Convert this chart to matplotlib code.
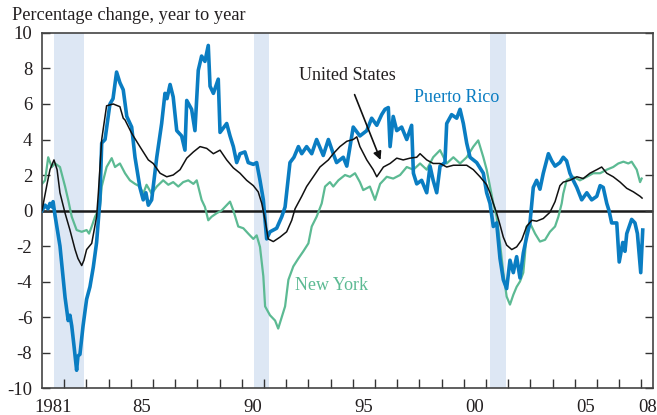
import numpy as np
import matplotlib
matplotlib.use("Agg")
import matplotlib.pyplot as plt

### Data (year, percent change year to year)
pr_year = [1981.00, 1981.14, 1981.27, 1981.36, 1981.45, 1981.50, 1981.59, 1981.68, 1981.81, 1982.04,
           1982.18, 1982.26, 1982.34, 1982.44, 1982.56, 1982.62, 1982.71, 1982.85, 1983.01, 1983.16,
           1983.31, 1983.46, 1983.61, 1983.69, 1983.84, 1984.06, 1984.20, 1984.36, 1984.51, 1984.66,
           1984.82, 1985.04, 1985.19, 1985.32, 1985.41, 1985.56, 1985.68, 1985.79, 1985.94, 1986.17,
           1986.39, 1986.54, 1986.63, 1986.77, 1986.91, 1987.07, 1987.29, 1987.44, 1987.52, 1987.74,
           1987.89, 1988.04, 1988.19, 1988.34, 1988.49, 1988.57, 1988.72, 1988.94, 1989.02, 1989.32,
           1989.47, 1989.62, 1989.77, 1989.92, 1990.14, 1990.29, 1990.52, 1990.67, 1990.82, 1990.97,
           1991.12, 1991.27, 1991.57, 1991.80, 1991.95, 1992.17, 1992.35, 1992.55, 1992.70, 1992.92,
           1993.15, 1993.37, 1993.67, 1993.90, 1994.12, 1994.27, 1994.57, 1994.73, 1995.02, 1995.32,
           1995.63, 1995.85, 1996.08, 1996.30, 1996.45, 1996.60, 1996.68, 1996.82, 1996.98, 1997.20,
           1997.43, 1997.65, 1997.73, 1997.88, 1998.10, 1998.33, 1998.48, 1998.62, 1998.78, 1998.93,
           1999.15, 1999.23, 1999.45, 1999.68, 1999.83, 1999.98, 2000.13, 2000.28, 2000.58, 2000.88,
           2001.03, 2001.18, 2001.33, 2001.48, 2001.63, 2001.78, 2001.93, 2002.08, 2002.23, 2002.38,
           2002.53, 2002.68, 2002.83, 2002.98, 2003.13, 2003.28, 2003.43, 2003.58, 2003.81, 2003.96,
           2004.11, 2004.33, 2004.48, 2004.63, 2004.78, 2004.93, 2005.09, 2005.31, 2005.54, 2005.76,
           2005.99, 2006.14, 2006.28, 2006.44, 2006.54, 2006.66, 2006.89, 2007.00, 2007.16, 2007.26,
           2007.34, 2007.56, 2007.71, 2007.82, 2007.97, 2008.06]
pr_val = [0.0, 0.3, 0.1, 0.4, 0.2, 0.5, -0.3, -1.0, -2.0, -4.9,
          -6.2, -5.9, -6.5, -7.6, -9.0, -8.2, -8.1, -6.5, -5.0, -4.3,
          -3.2, -1.8, 0.6, 3.8, 4.0, 6.0, 6.3, 7.8, 7.2, 6.8,
          5.3, 4.7, 3.0, 2.0, 1.3, 0.6, 1.0, 0.3, 0.6, 3.0,
          4.9, 6.6, 6.3, 7.1, 6.4, 4.5, 4.2, 3.4, 6.2, 5.7,
          4.5, 7.9, 8.7, 8.4, 9.3, 7.0, 6.6, 7.4, 4.4, 4.9,
          4.2, 3.6, 2.7, 3.2, 3.3, 2.7, 2.6, 2.7, 1.7, 0.6,
          -1.6, -1.2, -1.0, -0.35, 0.2, 2.7, 3.0, 3.6, 3.2, 3.6,
          3.2, 4.0, 3.1, 4.0, 3.2, 2.7, 3.0, 2.5, 4.7, 4.2,
          4.5, 5.2, 4.8, 5.4, 5.7, 5.8, 3.6, 5.3, 4.5, 4.7,
          4.0, 4.8, 2.1, 1.5, 1.7, 1.0, 2.5, 1.7, 1.0, 2.5,
          2.7, 4.9, 5.4, 5.2, 5.7, 4.9, 3.8, 3.0, 2.7, 2.1,
          1.0, 0.4, -0.9, -0.7, -2.7, -3.9, -4.4, -2.8, -3.5, -2.6,
          -3.8, -2.4, -1.5, -0.7, 1.3, 1.7, 1.2, 2.1, 3.2, 2.8,
          2.5, 2.7, 3.0, 2.8, 2.1, 1.7, 1.3, 0.6, 1.0, 0.6,
          0.8, 1.4, 1.3, 0.4, 0.0, -0.7, -0.7, -2.9, -1.8, -2.3,
          -1.3, -0.5, -0.7, -1.3, -3.5, -1.1]

us_year = [1981.00, 1981.23, 1981.36, 1981.54, 1981.68, 1981.81, 1982.04, 1982.26, 1982.49, 1982.62,
           1982.79, 1982.89, 1983.01, 1983.24, 1983.46, 1983.54, 1983.69, 1983.91, 1984.21, 1984.51,
           1984.66, 1984.74, 1985.04, 1985.41, 1985.79, 1986.01, 1986.32, 1986.62, 1986.91, 1987.22,
           1987.52, 1987.82, 1988.12, 1988.42, 1988.72, 1989.02, 1989.32, 1989.62, 1989.92, 1990.22,
           1990.52, 1990.74, 1990.90, 1991.05, 1991.19, 1991.42, 1991.72, 1992.02, 1992.25, 1992.40,
           1992.70, 1992.92, 1993.22, 1993.52, 1993.90, 1994.12, 1994.42, 1994.73, 1995.02, 1995.18,
           1995.32, 1995.63, 1995.92, 1996.08, 1996.38, 1996.68, 1996.98, 1997.27, 1997.58, 1997.88,
           1998.03, 1998.33, 1998.62, 1998.93, 1999.23, 1999.53, 1999.83, 2000.13, 2000.43, 2000.73,
           2001.03, 2001.18, 2001.33, 2001.48, 2001.63, 2001.78, 2001.93, 2002.16, 2002.38, 2002.61,
           2002.83, 2003.06, 2003.28, 2003.58, 2003.88, 2004.11, 2004.33, 2004.48, 2004.78, 2005.09,
           2005.38, 2005.68, 2005.99, 2006.21, 2006.44, 2006.73, 2007.04, 2007.34, 2007.64, 2007.94,
           2008.03]
us_val = [0.0, 1.5, 2.3, 2.85, 2.3, 1.0, -0.15, -1.1, -2.2, -2.7,
          -3.1, -2.8, -2.2, -1.85, -0.35, 1.0, 4.0, 5.9, 6.0, 5.85,
          5.2, 5.1, 4.35, 3.6, 2.85, 2.65, 2.1, 1.9, 2.0, 2.3,
          2.95, 3.3, 3.6, 3.5, 3.2, 3.4, 2.85, 2.4, 2.1, 1.7,
          1.4, 1.05, 0.4, -0.55, -1.6, -1.75, -1.5, -1.2, -0.55, 0.1,
          0.8, 1.35, 1.9, 2.45, 2.85, 3.2, 3.6, 3.9, 4.0, 4.15,
          3.6, 2.85, 2.3, 1.9, 2.45, 2.65, 2.95, 2.85, 2.95, 3.0,
          3.2, 2.85, 2.65, 2.65, 2.45, 2.55, 2.55, 2.55, 2.3, 1.9,
          1.45, 1.0, 0.4, -0.15, -0.8, -1.5, -1.95, -2.2, -2.05, -1.65,
          -0.9, -0.55, -0.6, -0.45, -0.1, 0.5, 1.4, 1.6, 1.7, 1.9,
          1.8, 2.1, 2.3, 2.45, 2.1, 1.9, 1.6, 1.25, 1.05, 0.8,
          0.7]

ny_year = [1981.00, 1981.14, 1981.28, 1981.44, 1981.59, 1981.81, 1982.04, 1982.18, 1982.34, 1982.56,
           1982.79, 1983.01, 1983.12, 1983.24, 1983.39, 1983.61, 1983.69, 1983.91, 1984.14, 1984.29,
           1984.51, 1984.74, 1984.96, 1985.19, 1985.41, 1985.56, 1985.71, 1985.94, 1986.17, 1986.46,
           1986.69, 1986.91, 1987.14, 1987.36, 1987.59, 1987.82, 1987.97, 1988.19, 1988.34, 1988.49,
           1988.64, 1988.87, 1989.09, 1989.39, 1989.47, 1989.62, 1989.84, 1990.07, 1990.29, 1990.52,
           1990.67, 1990.82, 1990.97, 1991.05, 1991.27, 1991.50, 1991.64, 1991.80, 1991.95, 1992.10,
           1992.32, 1992.55, 1992.77, 1993.00, 1993.15, 1993.37, 1993.60, 1993.75, 1993.97, 1994.12,
           1994.35, 1994.65, 1994.87, 1995.10, 1995.32, 1995.47, 1995.77, 1996.00, 1996.23, 1996.53,
           1996.82, 1997.13, 1997.43, 1997.73, 1998.03, 1998.33, 1998.62, 1998.93, 1999.23, 1999.53,
           1999.83, 2000.13, 2000.43, 2000.65, 2000.88, 2001.03, 2001.18, 2001.33, 2001.48, 2001.63,
           2001.78, 2001.93, 2002.08, 2002.23, 2002.38, 2002.53, 2002.68, 2002.76, 2002.83, 2002.98,
           2003.21, 2003.43, 2003.66, 2003.88, 2004.11, 2004.26, 2004.41, 2004.48, 2004.63, 2004.93,
           2005.23, 2005.54, 2005.83, 2006.14, 2006.44, 2006.73, 2006.96, 2007.19, 2007.41, 2007.56,
           2007.79, 2007.94, 2008.01]
ny_val = [1.5, 1.7, 3.0, 2.45, 2.65, 2.45, 1.35, 0.6, -0.35, -1.1,
          -1.2, -1.1, -1.3, -0.9, -0.35, 0.2, 1.35, 2.45, 2.95, 2.45,
          2.65, 2.1, 1.7, 1.5, 1.35, 0.95, 1.45, 0.95, 1.35, 1.7,
          1.45, 1.6, 1.35, 1.6, 1.7, 1.5, 1.7, 0.6, 0.2, -0.55,
          -0.35, -0.15, 0.0, 0.4, 0.5, 0.0, -0.9, -1.0, -1.3, -1.6,
          -1.4, -2.05, -3.7, -5.4, -5.9, -6.2, -6.65, -6.0, -5.4, -3.9,
          -3.15, -2.7, -2.3, -1.85, -0.9, -0.35, 0.4, 1.35, 1.6, 1.35,
          1.7, 2.0, 1.9, 2.1, 1.6, 1.15, 1.35, 0.6, 1.5, 1.9,
          1.8, 2.0, 2.45, 2.3, 2.65, 2.3, 3.0, 3.4, 2.65, 3.0,
          2.65, 3.0, 3.6, 3.95, 3.0, 2.3, 1.35, 0.4, -0.35, -1.85,
          -3.5, -4.85, -5.3, -4.75, -4.3, -4.0, -3.5, -2.4, -0.9, -0.7,
          -1.3, -1.75, -1.65, -1.2, -0.9, -0.35, 0.4, 0.95, 1.7, 1.9,
          1.7, 1.9, 2.1, 2.1, 2.3, 2.45, 2.65, 2.75, 2.65, 2.75,
          2.3, 1.6, 1.8]

# recession periods
rec_start = [1981.54, 1990.55, 2001.20]
rec_end = [1982.88, 1991.21, 2001.88]

# tick labels
xlab_pos = [1981.5, 1985.5, 1990.5, 1995.5, 2000.5, 2005.5, 2008.28]
xlab_txt = ["1981", "85", "90", "95", "00", "05", "08"]

### Style
plt.rcParams['font.family'] = ['Liberation Serif', 'DejaVu Serif']
plt.rcParams['axes.unicode_minus'] = False
blue = "#0a7dc2"
green = "#5cba93"
shade = "#dde7f4"
ink = "#231f20"

fig = plt.figure(figsize=(6.57, 4.15), dpi=100)
ax = fig.add_axes([0.0639, 0.065, 0.9296, 0.8555])

for s, e in zip(rec_start, rec_end):
    ax.axvspan(s, e, color=shade, lw=0, zorder=0)

ax.axhline(0, color="#1a1a1a", lw=1.8, zorder=1)

ax.plot(ny_year, ny_val, color=green, lw=1.6, zorder=2)
ax.plot(pr_year, pr_val, color=blue, lw=2.6, zorder=3)
ax.plot(us_year, us_val, color="#111111", lw=1.1, zorder=4)

ax.set_xlim(1981.0, 2008.51)
ax.set_ylim(-10, 10)

# x axis: year boundaries as ticks, labels in mid-year
ax.set_xticks(np.arange(1982, 2009))
ax.set_xticklabels([])
ax.set_xticks(xlab_pos, minor=True)
ax.set_xticklabels(xlab_txt, minor=True)
ax.tick_params(axis="x", which="major", direction="in", length=6.5, width=1.0, color="#333333")
ax.tick_params(axis="x", which="minor", length=0, pad=8, labelsize=13.5, labelcolor=ink)

ax.set_yticks(np.arange(-10, 11, 2))
ax.tick_params(axis="y", direction="in", left=True, right=True, length=6, width=1.0,
               color="#333333", pad=7, labelsize=13.5, labelcolor=ink)

for sp in ax.spines.values():
    sp.set_color("#444444")
    sp.set_linewidth(1.2)

# Labels
fig.text(12 / 657, 1 - 16 / 415, "Percentage change, year to year", fontsize=13.2,
         color=ink, va="center", ha="left")
ax.annotate("United States", xy=(1996.25, 2.85), xytext=(1994.74, 7.6),
            ha="center", va="center", fontsize=13, color=ink,
            arrowprops=dict(arrowstyle="-|>", color="#111111", lw=1.2,
                            mutation_scale=12, shrinkA=6, shrinkB=0))
ax.text(1999.67, 6.37, "Puerto Rico", color=blue, fontsize=13, ha="center", va="center")
ax.text(1994.05, -4.2, "New York", color=green, fontsize=13, ha="center", va="center")

fig.savefig("out.png", dpi=100)
